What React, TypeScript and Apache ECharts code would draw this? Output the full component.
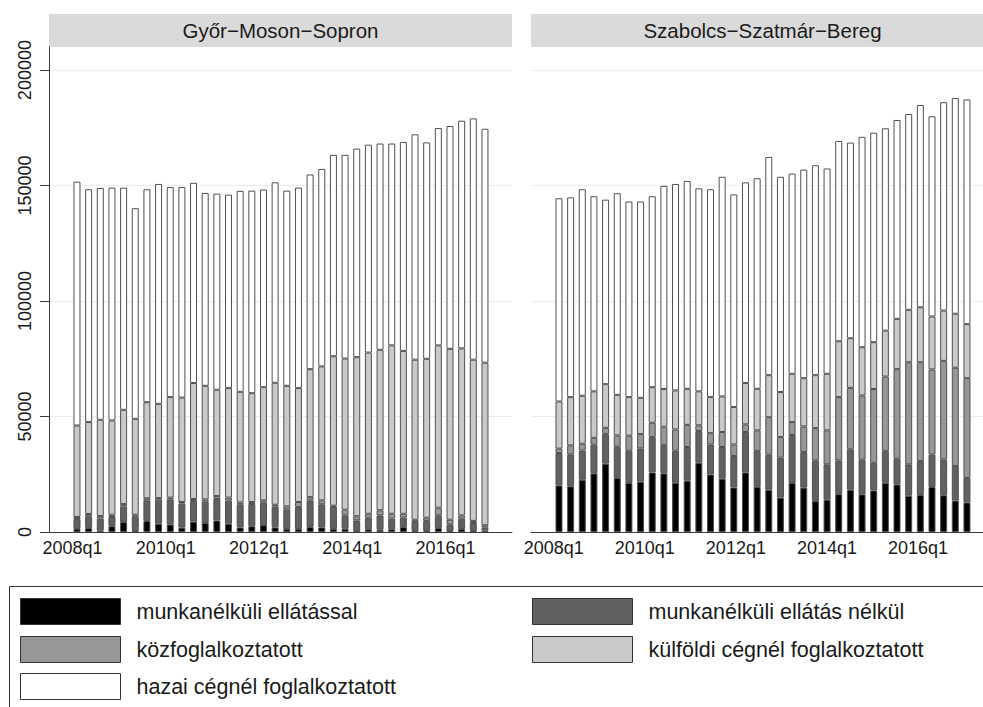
import React, { useEffect, useRef } from "react";
import * as echarts from "echarts";

// Quarter categories, 2008q1 .. 2016q4
const quarters = [
  "2008q1", "2008q2", "2008q3", "2008q4",
  "2009q1", "2009q2", "2009q3", "2009q4",
  "2010q1", "2010q2", "2010q3", "2010q4",
  "2011q1", "2011q2", "2011q3", "2011q4",
  "2012q1", "2012q2", "2012q3", "2012q4",
  "2013q1", "2013q2", "2013q3", "2013q4",
  "2014q1", "2014q2", "2014q3", "2014q4",
  "2015q1", "2015q2", "2015q3", "2015q4",
  "2016q1", "2016q2", "2016q3", "2016q4",
];
const xTickIndex = [0, 8, 16, 24, 32];
const yTicks = [0, 50000, 100000, 150000, 200000];

const panelTitles = ["Győr−Moson−Sopron", "Szabolcs−Szatmár−Bereg"];
const seriesNames = [
  "munkanélküli ellátással",
  "munkanélküli ellátás nélkül",
  "közfoglalkoztatott",
  "külföldi cégnél foglalkoztatott",
  "hazai cégnél foglalkoztatott",
];
const seriesColors = ["#000000", "#616161", "#979797", "#c9c9c9", "#ffffff"];

// Győr-Moson-Sopron
const gyorUnempWithBenefit = [1300, 1700, 700, 2500, 4300, 400, 4800, 3600, 3300, 1900, 4500, 3900, 5000, 3600, 2000, 2500, 3000, 2000, 1300, 1300, 2200, 2000, 1300, 1400, 400, 1200, 1000, 1200, 2200, 400, 400, 1700, 400, 1300, 400, 700];
const gyorUnempNoBenefit = [4300, 5100, 5100, 4000, 6800, 6200, 8900, 10400, 10800, 10400, 8900, 9200, 9300, 10000, 10000, 9600, 9700, 9000, 8500, 9500, 11500, 10000, 9500, 5800, 4600, 5000, 6200, 4600, 4000, 3900, 4400, 5500, 2900, 4500, 3500, 1200];
const gyorPublicWork = [900, 1000, 1100, 1000, 1000, 900, 900, 700, 800, 700, 900, 1000, 1300, 1300, 800, 900, 1000, 800, 1300, 2200, 1400, 1700, 600, 2500, 1800, 1700, 2200, 2100, 1700, 1000, 1400, 3300, 2000, 1400, 900, 1000];
const gyorForeignFirm = [39600, 39800, 41700, 40800, 40800, 41500, 41600, 40800, 43500, 45200, 50200, 49200, 46000, 47400, 47900, 47100, 49000, 52800, 52200, 49300, 55400, 58000, 64700, 65400, 68900, 69800, 69500, 72900, 70500, 69300, 68800, 70300, 74000, 72300, 69800, 70400];
const gyorDomesticFirm = [105600, 100800, 100400, 100800, 96200, 91200, 92200, 95200, 91000, 91200, 86700, 83500, 84900, 83800, 87000, 87700, 85600, 86800, 84500, 86800, 84300, 85500, 87200, 88200, 90300, 90000, 89300, 87400, 90500, 97600, 93700, 94100, 96500, 98600, 104500, 101300];

// Szabolcs-Szatmár-Bereg
const szabUnempWithBenefit = [20200, 19800, 22600, 25400, 29600, 23400, 21200, 21800, 25800, 25400, 21300, 22200, 30000, 24900, 23100, 19300, 25800, 19600, 18300, 14900, 21200, 19200, 13400, 14000, 16400, 18300, 16300, 18000, 21300, 20600, 15700, 16000, 19500, 15900, 13600, 12800];
const szabUnempNoBenefit = [14000, 13800, 12700, 12400, 12900, 13500, 14000, 14400, 15300, 12200, 13900, 14600, 13700, 13000, 13700, 13600, 17500, 15400, 15200, 17300, 20800, 15400, 17600, 15300, 14600, 17500, 15000, 12000, 13700, 11100, 13600, 14700, 14000, 15500, 15000, 10600];
const szabPublicWork = [1900, 3900, 2900, 3000, 2600, 4900, 6500, 6200, 6200, 8000, 9200, 9600, 2500, 4900, 6500, 5000, 3300, 9000, 16200, 8900, 5600, 11100, 14000, 14700, 27400, 26600, 27800, 31900, 32300, 38800, 44200, 42800, 36900, 42700, 42500, 43200];
const szabForeignFirm = [20400, 20900, 20800, 20100, 18900, 17600, 16700, 15700, 15400, 16300, 16900, 15600, 14700, 15600, 15400, 16200, 17900, 18000, 18200, 19500, 20900, 20900, 22900, 24500, 24200, 21500, 20900, 20300, 19900, 21800, 22700, 23800, 22900, 21800, 23400, 23400];
const szabDomesticFirm = [88000, 86500, 89400, 84500, 79900, 87300, 84700, 85000, 82700, 88000, 89400, 90000, 87900, 90000, 95100, 92100, 86900, 91200, 94500, 93200, 86700, 90300, 90900, 88900, 86700, 84700, 91100, 90700, 87600, 86100, 84800, 87600, 86700, 90200, 93400, 97300];

const panels = [
  [gyorUnempWithBenefit, gyorUnempNoBenefit, gyorPublicWork, gyorForeignFirm, gyorDomesticFirm],
  [szabUnempWithBenefit, szabUnempNoBenefit, szabPublicWork, szabForeignFirm, szabDomesticFirm],
];

const FONT = "'Liberation Sans', Arial, sans-serif";
const TEXT = "#1a1a1a";
const AXIS = "#3a3a3a";
const GRIDLINE = "#e6eef2";

// axis extent (in quarter-index units) of each panel's plot area
const X_MIN = -2.4;
const X_MAX = 37.32;

export default function App() {
  const ref = useRef<HTMLDivElement>(null);

  useEffect(() => {
    if (!ref.current) return;
    const chart = echarts.init(ref.current, null, { renderer: "svg" });

    const gridLefts = [49, 531];
    const plotW = 463;
    const unit = plotW / (X_MAX - X_MIN);
    const top = 47;
    const height = 485;

    // visible frame grids (0,1) + bar grids (2,3) aligned to the same quarter scale
    const grids: any[] = [
      ...gridLefts.map((l) => ({ left: l, top, width: plotW, height })),
      ...gridLefts.map((l) => ({
        left: l + (-0.5 - X_MIN) * unit,
        top,
        width: quarters.length * unit,
        height,
      })),
    ];

    const xAxes: any[] = [
      ...gridLefts.map((_, gi) => ({
        type: "value",
        gridIndex: gi,
        min: X_MIN,
        max: X_MAX,
        axisLine: { show: true, onZero: false, lineStyle: { color: AXIS, width: 1 } },
        axisTick: { show: false },
        splitLine: { show: false },
        axisLabel: {
          customValues: xTickIndex,
          formatter: (v: number) => quarters[Math.round(v)] ?? "",
          fontFamily: FONT,
          fontSize: 18,
          color: TEXT,
          margin: 7,
          padding: [0, 9, 0, 0],
        },
      })),
      ...gridLefts.map((_, gi) => ({
        type: "category",
        gridIndex: gi + 2,
        data: quarters,
        show: false,
        boundaryGap: true,
      })),
    ];

    const yAxes: any[] = [
      ...gridLefts.map((_, gi) => ({
        type: "value",
        gridIndex: gi,
        min: 0,
        max: 210000,
        interval: 50000,
        axisLine: { show: gi === 0, onZero: false, lineStyle: { color: AXIS, width: 1 } },
        axisTick: { show: gi === 0, length: 9, customValues: yTicks, lineStyle: { color: AXIS } },
        axisLabel: {
          show: gi === 0,
          customValues: yTicks,
          formatter: (v: number) => String(v),
          rotate: 90,
          fontFamily: FONT,
          fontSize: 18,
          color: TEXT,
          margin: 15,
        },
        splitLine: { show: true, lineStyle: { color: GRIDLINE, width: 1 } },
      })),
      ...gridLefts.map((_, gi) => ({
        type: "value",
        gridIndex: gi + 2,
        min: 0,
        max: 210000,
        show: false,
        splitLine: { show: false },
      })),
    ];

    const series: any[] = [];
    panels.forEach((panel, gi) => {
      panel.forEach((vals, si) => {
        series.push({
          type: "bar",
          name: seriesNames[si],
          xAxisIndex: gi + 2,
          yAxisIndex: gi + 2,
          stack: "panel" + gi,
          barWidth: 7,
          itemStyle: { color: seriesColors[si], borderColor: "#505050", borderWidth: 1 },
          emphasis: { disabled: true },
          data: vals,
        });
      });
    });

    const legendPos = [
      { left: 20, top: 598 },
      { left: 532, top: 598 },
      { left: 20, top: 636 },
      { left: 532, top: 636 },
      { left: 20, top: 673 },
    ];
    const legends = seriesNames.map((n, i) => ({
      data: [n],
      left: legendPos[i].left,
      top: legendPos[i].top,
      padding: 0,
      itemWidth: 100,
      itemHeight: 26,
      icon: "rect",
      selectedMode: false,
      itemStyle: { borderColor: "#333333", borderWidth: 1 },
      textStyle: { fontFamily: FONT, fontSize: 21.5, color: TEXT, padding: [0, 0, 0, 11] },
    }));

    const graphics: any[] = [];
    gridLefts.forEach((l, gi) => {
      graphics.push({
        type: "rect",
        shape: { x: l, y: 14, width: plotW, height: 33 },
        style: { fill: "#dadadb" },
        silent: true,
      });
      graphics.push({
        type: "text",
        x: l + plotW / 2,
        y: 30,
        style: {
          text: panelTitles[gi],
          fontFamily: FONT,
          fontSize: 20.5,
          fill: TEXT,
          align: "center",
          verticalAlign: "middle",
        },
        silent: true,
      });
    });
    graphics.push({
      type: "rect",
      shape: { x: 9.5, y: 586.5, width: 1000, height: 200 },
      style: { fill: "none", stroke: "#333333", lineWidth: 1 },
      silent: true,
    });

    chart.setOption({
      animation: false,
      backgroundColor: "#ffffff",
      grid: grids,
      xAxis: xAxes,
      yAxis: yAxes,
      legend: legends,
      series,
      graphic: graphics,
    });

    return () => chart.dispose();
  }, []);

  return (
    <div
      ref={ref}
      style={{ position: "fixed", left: 0, top: 0, width: 983, height: 707 }}
    />
  );
}
